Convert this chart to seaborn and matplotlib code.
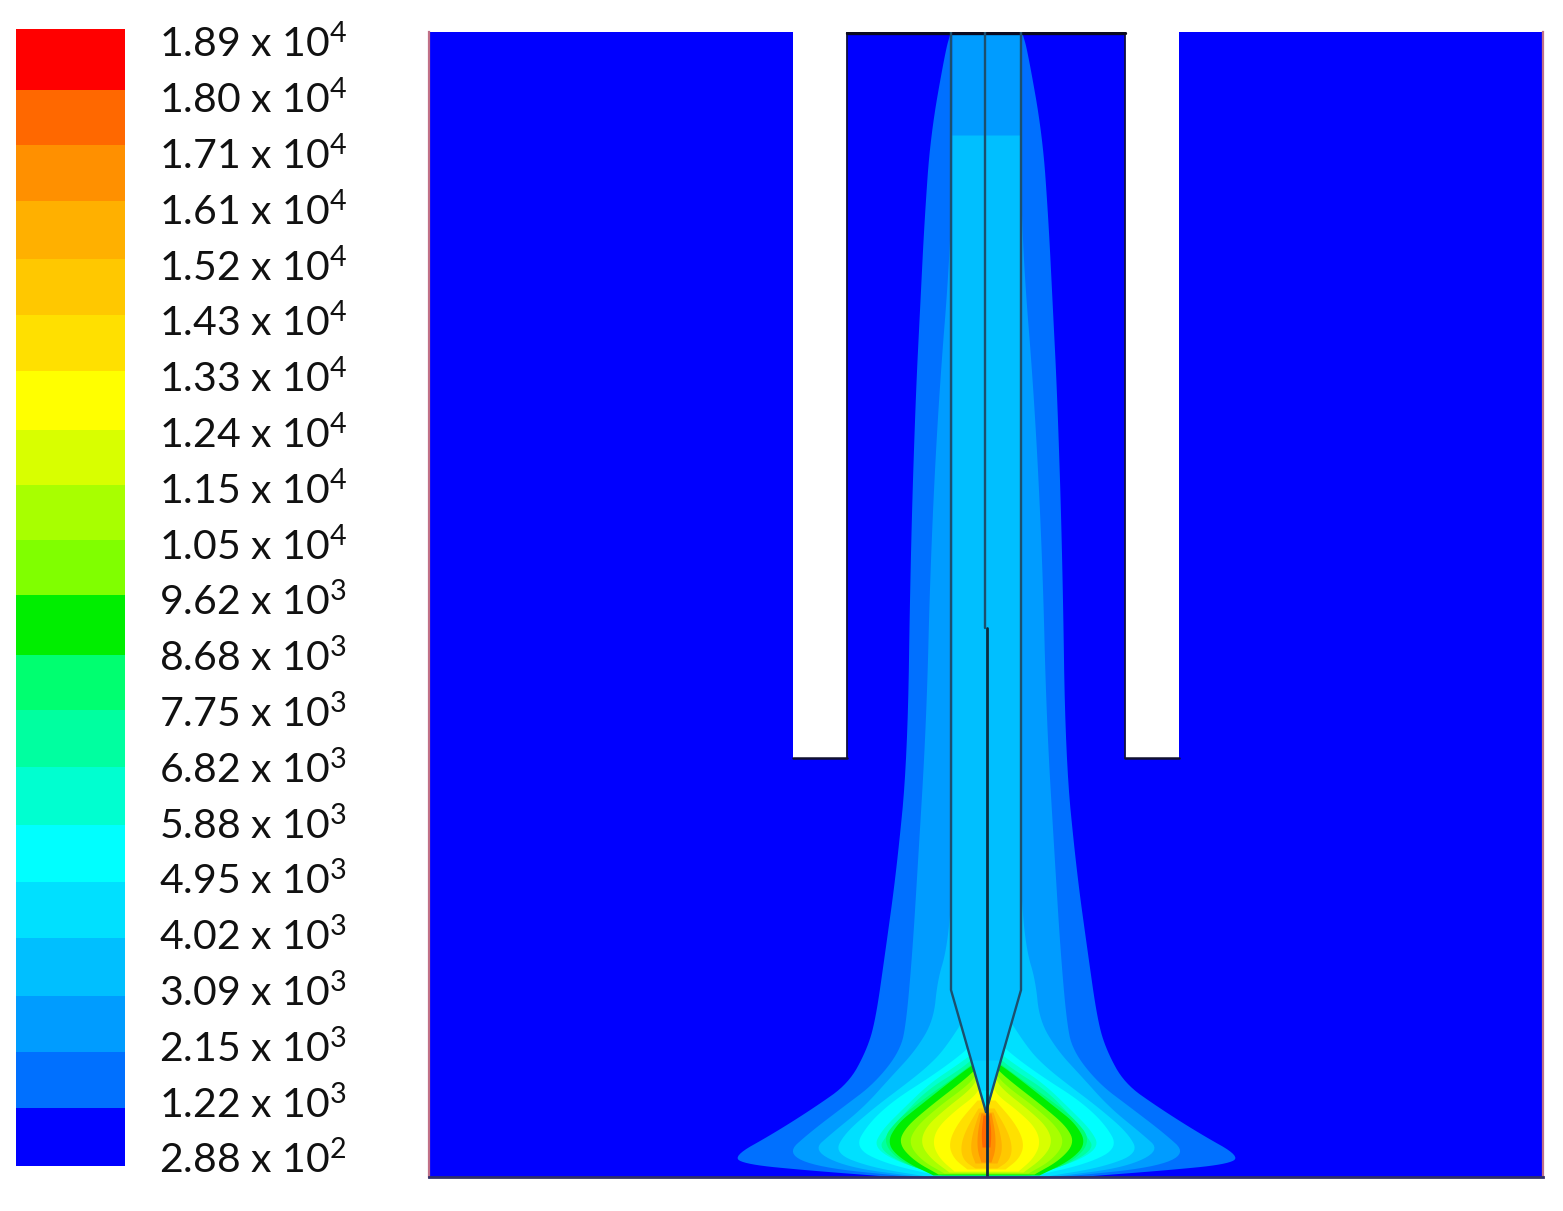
import numpy as np
import matplotlib
matplotlib.use("Agg")
import matplotlib.pyplot as plt
from matplotlib.colors import ListedColormap
import seaborn as sns

# ==========================================
# 1. DATA
# ==========================================
W, H = 1563, 1211

label_values = ["1.89", "1.80", "1.71", "1.61", "1.52", "1.43", "1.33", "1.24", "1.15", "1.05", "9.62",
                "8.68", "7.75", "6.82", "5.88", "4.95", "4.02", "3.09", "2.15", "1.22", "2.88"]
label_powers = [4, 4, 4, 4, 4, 4, 4, 4, 4, 4, 3, 3, 3, 3, 3, 3, 3, 3, 3, 3, 2]

# colour bands, lowest first
band_colors = ["#0000ff", "#0070ff", "#009cff", "#00bfff", "#00e0ff", "#00ffff", "#00ffd0", "#00ffa0",
               "#00ff70", "#00ee00", "#80ff00", "#a8ff00", "#d8ff00", "#ffff00", "#ffe000", "#ffc800",
               "#ffb000", "#ff9000", "#ff6800", "#ff0000"]
# band heights on the colour bar, top band first
band_heights = [61, 55, 56, 58, 56, 56, 59, 55, 55, 55, 60, 55, 57, 58, 57, 56, 58, 56, 56, 58]

# contour half widths about the axis, one pair per colour band
level_01_y = [33, 50, 135, 220, 300, 400, 560, 758, 870, 950, 1020, 1050, 1083, 1107, 1133, 1156, 1164, 1170, 1176]
level_01_h = [36, 41, 56, 62, 66, 71, 76, 79, 90, 101, 111, 120, 138, 172, 213, 254, 240, 178, 100]
level_02_y = [33, 135, 250, 400, 560, 720, 870, 950, 1020, 1050, 1083, 1107, 1133, 1153, 1167, 1176]
level_02_h = [34, 34, 36, 48, 56, 60, 69, 74, 80, 86, 112, 144, 178, 200, 168, 80]
level_03_y = [135, 850, 900, 950, 980, 1020, 1050, 1077, 1107, 1133, 1150, 1167, 1176]
level_03_h = [34, 34, 35, 40, 49, 53, 71, 96, 123, 155, 174, 139, 70]
level_04_y = [1015, 1050, 1067, 1083, 1107, 1133, 1153, 1167, 1176]
level_04_h = [20, 43, 60, 80, 112, 142, 152, 115, 60]
level_05_y = [1040, 1057, 1077, 1100, 1123, 1147, 1163, 1176]
level_05_h = [10, 29, 57, 93, 118, 132, 102, 45]
level_06_y = [1050, 1063, 1083, 1107, 1130, 1147, 1163, 1175]
level_06_h = [10, 27, 57, 82, 105, 113, 86, 40]
level_07_y = [1055, 1068, 1090, 1115, 1135, 1148, 1164, 1175]
level_07_h = [10, 25, 60, 84, 100, 108, 82, 44]
level_08_y = [1060, 1071, 1098, 1118, 1140, 1162, 1174]
level_08_h = [10, 24, 62, 88, 105, 86, 50]
level_09_y = [1062, 1073, 1107, 1123, 1143, 1160, 1175]
level_09_h = [10, 26, 69, 89, 100, 84, 53]
level_10_y = [1068, 1080, 1107, 1127, 1143, 1160, 1174]
level_10_h = [10, 23, 58, 81, 88, 73, 48]
level_11_y = [1073, 1085, 1107, 1127, 1143, 1160, 1173]
level_11_h = [9, 19, 49, 71, 78, 65, 42]
level_12_y = [1078, 1089, 1110, 1127, 1143, 1158, 1172]
level_12_h = [9, 16, 43, 61, 66, 56, 37]
level_13_y = [1085, 1095, 1110, 1127, 1143, 1158, 1171]
level_13_h = [6, 11, 31, 49, 54, 47, 32]
level_14_y = [1100, 1123, 1143, 1158, 1169]
level_14_h = [9, 29, 38, 33, 19]
level_15_y = [1108, 1130, 1147, 1160, 1168]
level_15_h = [8, 21, 26, 23, 11]
level_16_y = [1112, 1133, 1150, 1163]
level_16_h = [7, 14, 16, 11]
level_17_y = [1113, 1133, 1150, 1162]
level_17_h = [5, 9, 9, 5]
level_18_y = [1115, 1133, 1147]
level_18_h = [3, 5, 4]

level_y = [level_01_y, level_02_y, level_03_y, level_04_y, level_05_y, level_06_y, level_07_y, level_08_y,
           level_09_y, level_10_y, level_11_y, level_12_y, level_13_y, level_14_y, level_15_y, level_16_y,
           level_17_y, level_18_y]
level_h = [level_01_h, level_02_h, level_03_h, level_04_h, level_05_h, level_06_h, level_07_h, level_08_h,
           level_09_h, level_10_h, level_11_h, level_12_h, level_13_h, level_14_h, level_15_h, level_16_h,
           level_17_h, level_18_h]

# inside of the tapered tip
wedge_y = [[990, 1112], [1060, 1112], [1090, 1112]]
wedge_h = [[35, 0], [15, 0], [6, 0]]
wedge_colors = ["#00bfff", "#00d0ff", "#00e8ff"]

# geometry of the drawing
x_left, x_right, y_top, y_floor = 429, 1543, 32, 1177
x_axis = 986
slots = [(793, 847), (1125, 1179)]
slot_bottom = 758
wall_x = [951, 1021]
wall_end_y = 990
tip_y = 1112
step_y = 628


# rounds the corners of a contour, end points stay where they are
def smooth(ys, hs, passes=3):
    pts = np.column_stack([ys, hs]).astype(float)
    for _ in range(passes):
        a = pts[:-1] * 0.75 + pts[1:] * 0.25
        b = pts[:-1] * 0.25 + pts[1:] * 0.75
        mid = np.empty((2 * len(a), 2))
        mid[0::2] = a
        mid[1::2] = b
        pts = np.vstack([pts[0], mid, pts[-1]])
    return pts[:, 0], pts[:, 1]


# ==========================================
# 2. FIGURE
# ==========================================
sns.set_theme(style="white")
plt.rcParams["font.family"] = ["Lato", "DejaVu Sans"]
plt.rcParams["mathtext.default"] = "regular"


def px_axes(x0, y0, x1, y1):
    return fig.add_axes([x0 / W, 1 - y1 / H, (x1 - x0) / W, (y1 - y0) / H])


fig = plt.figure(figsize=(W / 100, H / 100), dpi=100, facecolor="white")

# ==========================================
# 3. COLOUR BAR
# ==========================================
ax_bar = px_axes(16, 29, 125, 29 + sum(band_heights))
rows = np.repeat(np.arange(len(band_colors))[::-1], band_heights)[:, None]
sns.heatmap(rows, ax=ax_bar, cmap=ListedColormap(band_colors), cbar=False, xticklabels=False, yticklabels=False)

tick_pos = np.linspace(12, 1128, len(label_values))
ax_bar.yaxis.tick_right()
ax_bar.set_yticks(tick_pos)
ax_bar.set_yticklabels([f"{v} x 10$^{{{p}}}$" for v, p in zip(label_values, label_powers)],
                       rotation=0, fontsize=29.5, color="#111111")
ax_bar.tick_params(axis="y", length=0, pad=24.5)

# ==========================================
# 4. CONTOUR FIELD
# ==========================================
ax = px_axes(x_left, y_top, x_right, y_floor)
ax.set_xlim(x_left, x_right)
ax.set_ylim(y_floor, y_top)
ax.set_facecolor(band_colors[0])
ax.set_xticks([])
ax.set_yticks([])

for i, (ys, hs) in enumerate(zip(level_y, level_h)):
    sy, sh = smooth(ys, hs)
    ax.fill_betweenx(sy, x_axis - sh, x_axis + sh, color=band_colors[i + 1], lw=0)

for ys, hs, col in zip(wedge_y, wedge_h, wedge_colors):
    ys = np.array(ys)
    hs = np.array(hs)
    ax.fill_betweenx(ys, x_axis - hs, x_axis + hs, color=col, lw=0)

# slots
for x0, x1 in slots:
    ax.axvspan(x0, x1, ymin=(y_floor - slot_bottom) / (y_floor - y_top), ymax=1, color="white", lw=0)
    ax.plot([x0, x1], [slot_bottom, slot_bottom], color="#101030", lw=1.8)
ax.plot([slots[0][1], slots[0][1]], [y_top, slot_bottom], color="#101040", lw=1.3)
ax.plot([slots[1][0], slots[1][0]], [y_top, slot_bottom], color="#101040", lw=1.3)
ax.plot([slots[0][1], slots[1][0]], [y_top + 1, y_top + 1], color="#0a0a20", lw=2.4)

# channel walls and axis line
wall_col = "#1c4f6e"
ax.plot([wall_x[0], wall_x[0], x_axis], [y_top, wall_end_y, tip_y], color=wall_col, lw=1.7)
ax.plot([wall_x[1], wall_x[1], x_axis], [y_top, wall_end_y, tip_y], color=wall_col, lw=1.7)
ax.plot([x_axis - 1, x_axis - 1], [y_top, step_y], color=wall_col, lw=1.7)
ax.plot([x_axis + 1, x_axis + 1], [step_y, y_floor], color="#0c2c40", lw=2.0)

for side in ["left", "right"]:
    ax.spines[side].set_color("#c07088")
    ax.spines[side].set_linewidth(1.6)
ax.spines["bottom"].set_color("#30306a")
ax.spines["bottom"].set_linewidth(2.0)
ax.spines["top"].set_visible(False)

plt.savefig("out.png", dpi=100)
